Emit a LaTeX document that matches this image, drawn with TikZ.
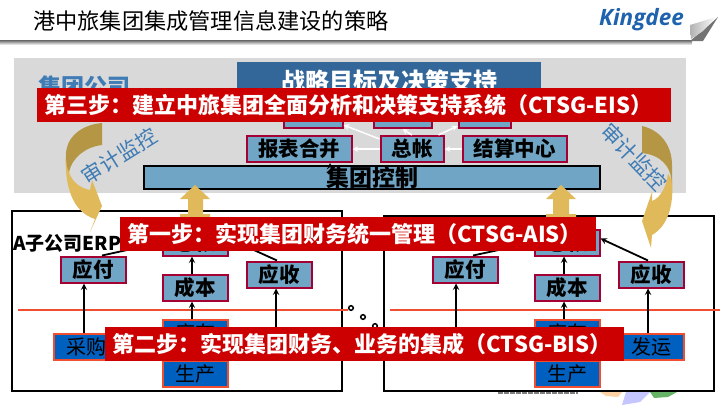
\documentclass[tikz,border=0pt]{standalone}
\usepackage{fontspec}
\setmainfont{Noto Sans CJK SC}
\newfontfamily\logofont{Open Sans}
\usepackage{tikz}
\usetikzlibrary{shapes, arrows, calc, positioning}
\definecolor{barred}{HTML}{CC0000}
\definecolor{panelgray}{HTML}{D9D9D9}
\definecolor{steelbox}{HTML}{70A5C6}
\definecolor{crimsonline}{HTML}{A50034}
\definecolor{deepblue}{HTML}{0060BF}
\definecolor{orangeline}{HTML}{F04E30}
\definecolor{goldlight}{HTML}{E0B95B}
\definecolor{golddark}{HTML}{B59644}
\definecolor{topblue}{HTML}{336699}
\definecolor{labelblue}{HTML}{3F7CB5}
\definecolor{logoblue}{HTML}{1F62AE}
\tikzstyle{finbox} = [draw=crimsonline, line width=2pt, fill=steelbox, inner sep=0pt, minimum height=26pt, font=\fontsize{20.5}{20.5}\selectfont\bfseries]
\tikzstyle{bizbox} = [draw=orangeline, line width=2pt, fill=deepblue, inner sep=0pt, minimum width=65pt, minimum height=26pt, font=\fontsize{20}{20}\selectfont]
\tikzstyle{stepbar} = [fill=barred, text=white, anchor=west, inner xsep=7pt, inner ysep=0pt, minimum height=34pt, align=left, font=\fontsize{22}{22}\selectfont\bfseries]
\tikzstyle{groupbox} = [draw=black, line width=2pt]
\tikzstyle{upflow} = [line width=1.8pt, -stealth, black]
\tikzstyle{whiteflow} = [line width=1.5pt, -stealth, white]
\tikzstyle{bubble} = [draw=black, line width=1.5pt, fill=white]
\tikzstyle{cutline} = [draw=orangeline, line width=2pt]
\tikzstyle{auditlabel} = [text=labelblue, font=\fontsize{21}{21}\selectfont]
\begin{document}
\begin{tikzpicture}[x=1pt, y=-1pt]
            \useasboundingbox (0,0) rectangle (720,405);
            \fill [white] (0,0) rectangle (720,405);

            % header
            \shade [top color=black!60, bottom color=white] (0,40) rectangle (692,45);
            \fill [black!55] (690,41) -- (703,41) -- (718,17) -- (708,26) -- cycle;
            \shade [left color=black!30, right color=white] (690,25) -- (716,17) -- (703,31) -- (691,39) -- cycle;
            \node [anchor=west, inner sep=0pt, font=\fontsize{22.2}{22.2}\selectfont] at (33,21) (title) {港中旅集团集成管理信息建设的策略};
            \node [anchor=west, inner sep=0pt, text=logoblue, font=\logofont\fontsize{22.5}{22.5}\selectfont\bfseries\itshape] at (599,20) (logo) {Kingdee};

            % footer slivers below the right box
            \fill [orange!70, opacity=0.5] (600,392) -- (622,392) -- (618,397) -- (606,396) -- cycle;
            \fill [blue!50, opacity=0.45] (626,392) -- (650,392) -- (640,402) -- (622,405) -- cycle;
            \fill [green!50!black, opacity=0.6] (650,392) -- (677,392) -- (668,397) -- (654,398) -- cycle;
            \draw [black!50, line width=2pt, dash pattern=on 5pt off 1pt] (498,393) -- (578,393);

            % group company
            \fill [panelgray] (14,58) rectangle (686,193);
            \node [anchor=west, inner sep=0pt, text=labelblue, font=\fontsize{23}{23}\selectfont\bfseries] at (38,87) (grouptitle) {集团公司};
            \node [fill=topblue, text=white, inner sep=0pt, minimum width=304pt, minimum height=38pt, font=\fontsize{24}{24}\selectfont\bfseries] at (389,81) (strategy) {战略目标及决策支持};
            \node [finbox, minimum width=59pt] at (313,115) (topa) {};
            \node [finbox, minimum width=58pt] at (402.5,115) (topb) {};
            \node [finbox, minimum width=52pt] at (484.5,115) (topc) {};
            \node [finbox, minimum width=105pt] at (299,149) (report) {报表合并};
            \node [finbox, minimum width=63pt] at (412,149) (ledger) {总帐};
            \node [finbox, minimum width=104pt] at (514.5,149) (settle) {结算中心};
            \node [draw=black, line width=2pt, fill=steelbox, inner sep=0pt, minimum width=456pt, minimum height=23pt, font=\fontsize{23}{23}\selectfont\bfseries] at (372,177.5) (control) {集团控制};

            \draw [whiteflow] (settle.west) -- (ledger.east);
            \draw [whiteflow] (ledger.west) -- (report.east);
            \draw [whiteflow] ([yshift=10]ledger.west) -- ([xshift=0,yshift=-10]topa.east);
            \draw [whiteflow] (ledger.north) -- (topb.south);
            \draw [whiteflow] ([xshift=-6]ledger.north east) -- ([yshift=3]topc.south west);
            \draw [upflow] ([xshift=-42]control.north) -- ([xshift=31]report.south);

            % subsidiary boxes
            \draw [groupbox] (12,211) rectangle (342,391);
            \draw [groupbox] (384,216) rectangle (714,391);
            \node [anchor=west, inner sep=0pt, font=\fontsize{19}{19}\selectfont\bfseries] at (13,243) (subtitle) {A子公司ERP};

            \draw [cutline] (18,309.5) -- (348,309.5);
            \draw [cutline] (390,309.5) -- (720,309.5);

            \node [finbox, minimum width=65pt] at (93,269.5) (payA) {应付};
            \node [finbox, minimum width=65pt] at (195,242.5) (ledgerA) {总帐};
            \node [finbox, minimum width=65pt] at (195,287.5) (costA) {成本};
            \node [finbox, minimum width=65pt] at (279,274.5) (recvA) {应收};
            \node [bizbox] at (86,346.5) (buyA) {采购};
            \node [bizbox] at (195,332.5) (stockA) {库存};
            \node [bizbox] at (195,373.5) (makeA) {生产};

            \node [finbox, minimum width=65pt] at (465,269.5) (payB) {应付};
            \node [finbox, minimum width=65pt] at (567,242.5) (ledgerB) {总帐};
            \node [finbox, minimum width=65pt] at (567,287.5) (costB) {成本};
            \node [finbox, minimum width=65pt] at (651,274.5) (recvB) {应收};
            \node [bizbox] at (651,346.5) (shipB) {发运};
            \node [bizbox] at (567,332.5) (stockB) {库存};
            \node [bizbox] at (567,373.5) (makeB) {生产};

            \coordinate (sendA) at (276,340);
            \coordinate (buyB) at (456,340);

            \draw [upflow] ([xshift=-2]buyA.north) -- ([xshift=-9]payA.south);
            \draw [upflow] ([xshift=-3]stockA.north) -- ([xshift=-3]costA.south);
            \draw [upflow] ([xshift=-3]costA.north) -- ([xshift=-3]ledgerA.south);
            \draw [upflow] (sendA) -- ([xshift=-3]recvA.south);
            \draw [upflow] (buyB) -- ([xshift=-9]payB.south);
            \draw [upflow] ([xshift=-3]stockB.north) -- ([xshift=-3]costB.south);
            \draw [upflow] ([xshift=-3]costB.north) -- ([xshift=-3]ledgerB.south);
            \draw [upflow] ([xshift=-3]shipB.north) -- ([xshift=-3]recvB.south);

            \draw [upflow] ([xshift=9]payA.north) -- (ledgerA.west);
            \draw [upflow] ([xshift=-2]recvA.north) -- ([yshift=4]ledgerA.east);
            \draw [upflow] ([xshift=8]payB.north) -- (ledgerB.west);
            \draw [upflow] ([xshift=-3]recvB.north) -- ([yshift=4]ledgerB.east);

            % thought bubbles
            \draw [bubble] (351,308) circle (2.3);
            \draw [bubble] (363,317) circle (2.3);
            \draw [bubble] (375,326) circle (2.3);

            % thick arrows between the levels
            \fill [goldlight] (195,185) -- (210,199) -- (203,199) -- (203,214) -- (210,214) -- (210,222) -- (180,222) -- (180,214) -- (188,214) -- (188,199) -- (180,199) -- cycle;
            \fill [goldlight] (561,185) -- (576,199) -- (569,199) -- (569,214) -- (576,214) -- (576,222) -- (546,222) -- (546,214) -- (553,214) -- (553,199) -- (546,199) -- cycle;

            % curved audit arrows
            \fill [goldlight] (66,152) .. controls (64,185) and (72,212) .. (95,219) -- (90,232) -- (102,206) -- (92,180) -- (90,190) .. controls (80,188) and (72,182) .. (69,172) -- cycle;
            \fill [golddark] (102,123) .. controls (80,125) and (66,138) .. (66,155) .. controls (66,162) and (67,168) .. (69,172) .. controls (72,158) and (85,147) .. (102,145) -- cycle;
            \fill [goldlight] (672,180) .. controls (674,205) and (668,226) .. (652,235) -- (651,248) -- (642,221) -- (652,192) -- (652,201) .. controls (660,198) and (666,188) .. (668,174) -- cycle;
            \fill [golddark] (642,126) .. controls (660,130) and (672,145) .. (672,165) -- (672,184) .. controls (671,165) and (660,155) .. (642,153) -- cycle;
            \node [auditlabel, rotate=32] at (119,156) (auditA) {审计监控};
            \node [auditlabel, rotate=-46] at (634,157) (auditB) {审计监控};

            % step bars on top
            \node [stepbar, text width=620pt] at (37,105) (stepthree) {第三步：建立中旅集团全面分析和决策支持系统（CTSG-EIS）};
            \node [stepbar, text width=462pt] at (120,234) (stepone) {第一步：实现集团财务统一管理（CTSG-AIS）};
            \node [stepbar, text width=505pt] at (105,344) (steptwo) {第二步：实现集团财务、业务的集成（CTSG-BIS）};
\end{tikzpicture}
\end{document}
